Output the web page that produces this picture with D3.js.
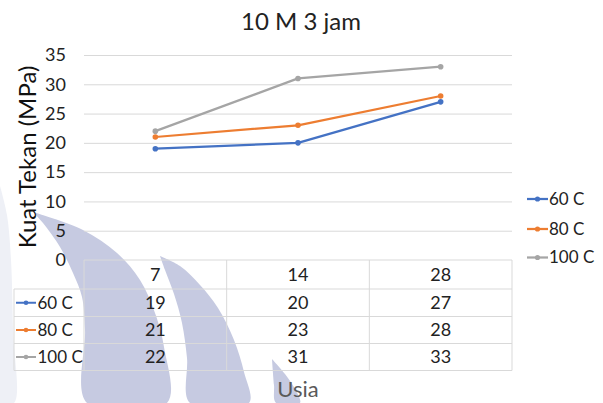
<!DOCTYPE html>
<html>
<head>
<meta charset="utf-8">
<script src="https://cdn.jsdelivr.net/npm/d3@7"></script>
<style>
  html, body { margin: 0; padding: 0; background: #fff; }
  svg { display: block; font-family: Lato, "Open Sans", sans-serif; }
</style>
</head>
<body>
<svg id="chart" width="603" height="403"></svg>
<script>
// Compressive strength (MPa) by age (days) for three curing temperatures
const categories = ["7", "14", "28"];
const seriesNames = ["60 C", "80 C", "100 C"];
const values60 = [19, 20, 27];
const values80 = [21, 23, 28];
const values100 = [22, 31, 33];
const yTicks = [0, 5, 10, 15, 20, 25, 30, 35];
const seriesColors = ["#4472C4", "#ED7D31", "#A5A5A5"];

const series = seriesNames.map((name, i) => ({
  name,
  color: seriesColors[i],
  values: [values60, values80, values100][i]
}));

const svg = d3.select("#chart");
const W = 603, H = 403;
const plot = { left: 84, right: 512, top: 55, bottom: 260 };
const tableLeft = 14;

svg.append("rect").attr("width", W).attr("height", H).attr("fill", "#fff");

// Background sail emblem
const emblem = svg.append("g");
const curve = d3.line().curve(d3.curveCatmullRom.alpha(0.5));
const sails = [
  { fill: "#eef0f6", pts: [[0,186],[7,215],[11,260],[13,330],[14,403],[0,403]] },
  { fill: "#c6cae1", pts: [[33,212],[83,230],[117,253],[140,280],[155,313],[164,347],[167,403],
                          [87,403],[85,330],[82,297],[73,273],[60,247],[43,223],[33,212]] },
  { fill: "#c6cae1", pts: [[160,256],[180,266],[200,285],[218,308],[234,340],[244,372],[249,403],
                          [190,403],[187,358],[182,323],[174,294],[165,270],[160,256]] },
  { fill: "#c6cae1", pts: [[272,359],[285,374],[295,389],[300,403],[276,403],[274,385],[272,359]] }
];
sails.forEach(s => emblem.append("path").attr("d", curve(s.pts) + "Z").attr("fill", s.fill));

const x = d3.scaleBand().domain(categories).range([plot.left, plot.right]);
const y = d3.scaleLinear().domain([0, 35]).range([plot.bottom, plot.top]);

// Horizontal gridlines
svg.append("g")
  .attr("transform", `translate(${plot.left},0)`)
  .call(d3.axisLeft(y).tickValues(yTicks.filter(v => v > 0)).tickSize(-(plot.right - plot.left)).tickFormat(""))
  .call(g => g.select(".domain").remove())
  .call(g => g.selectAll("line").attr("stroke", "#d9d9d9").attr("stroke-width", 1));

// Y tick labels
svg.append("g")
  .attr("transform", `translate(66,0)`)
  .call(d3.axisLeft(y).tickValues(yTicks).tickSize(0).tickPadding(0))
  .call(g => g.select(".domain").remove())
  .call(g => g.selectAll("text").attr("font-size", 18).attr("fill", "#222").attr("font-family", "Lato"));

// Data table grid
const tg = svg.append("g").attr("stroke", "#d9d9d9").attr("stroke-width", 1).attr("fill", "none");
const rowYs = [plot.bottom, 289, 316.5, 343.5, 370.5];
rowYs.forEach((ry, i) => {
  tg.append("line").attr("x1", i === 0 ? plot.left : tableLeft).attr("x2", plot.right)
    .attr("y1", ry).attr("y2", ry);
});
tg.append("line").attr("x1", tableLeft).attr("x2", tableLeft).attr("y1", 289).attr("y2", 370.5);
[plot.left, ...categories.map(c => x(c) + x.bandwidth())].forEach(vx => {
  tg.append("line").attr("x1", vx).attr("x2", vx).attr("y1", plot.bottom).attr("y2", 370.5);
});

// Header row: category labels
svg.append("g").selectAll("text").data(categories).join("text")
  .attr("x", d => x(d) + x.bandwidth() / 2)
  .attr("y", (rowYs[0] + rowYs[1]) / 2)
  .attr("dy", "0.35em")
  .attr("text-anchor", "middle")
  .attr("font-size", 18).attr("fill", "#222")
  .text(d => d);

// Table rows: legend key + values
series.forEach((s, i) => {
  const cy = (rowYs[i + 1] + rowYs[i + 2]) / 2;
  const row = svg.append("g");
  row.append("line").attr("x1", 16).attr("x2", 36).attr("y1", cy).attr("y2", cy)
    .attr("stroke", s.color).attr("stroke-width", 2);
  row.append("circle").attr("cx", 26).attr("cy", cy).attr("r", 2.3).attr("fill", s.color);
  row.append("text").attr("x", 37.5).attr("y", cy).attr("dy", "0.35em")
    .attr("font-size", 17).attr("fill", "#222").text(s.name);
  row.selectAll("text.v").data(s.values).join("text").attr("class", "v")
    .attr("x", (d, j) => x(categories[j]) + x.bandwidth() / 2)
    .attr("y", cy).attr("dy", "0.35em")
    .attr("text-anchor", "middle")
    .attr("font-size", 18).attr("fill", "#222")
    .text(d => d);
});

// Series lines and markers
const line = d3.line().x((d, j) => x(categories[j]) + x.bandwidth() / 2).y(d => y(d));
series.forEach(s => {
  svg.append("path").datum(s.values).attr("d", line)
    .attr("fill", "none").attr("stroke", s.color).attr("stroke-width", 2.25)
    .attr("stroke-linejoin", "round");
  svg.append("g").selectAll("circle").data(s.values).join("circle")
    .attr("cx", (d, j) => x(categories[j]) + x.bandwidth() / 2)
    .attr("cy", d => y(d)).attr("r", 2.8).attr("fill", s.color);
});

// Legend
const legendYs = [199, 229, 257.5];
series.forEach((s, i) => {
  const g = svg.append("g");
  g.append("line").attr("x1", 527).attr("x2", 548).attr("y1", legendYs[i]).attr("y2", legendYs[i])
    .attr("stroke", s.color).attr("stroke-width", 2.25);
  g.append("circle").attr("cx", 537.5).attr("cy", legendYs[i]).attr("r", 2.6).attr("fill", s.color);
  g.append("text").attr("x", 549).attr("y", legendYs[i]).attr("dy", "0.35em")
    .attr("font-size", 17).attr("fill", "#222").text(s.name);
});

// Titles
svg.append("text").attr("x", 301).attr("y", 30).attr("text-anchor", "middle")
  .attr("font-size", 24).attr("fill", "#222").text("10 M 3 jam");

svg.append("text")
  .attr("transform", "translate(36,157) rotate(-90)")
  .attr("text-anchor", "middle")
  .attr("font-size", 24).attr("fill", "#111").text("Kuat Tekan (MPa)");

svg.append("text").attr("x", 298).attr("y", 397).attr("text-anchor", "middle")
  .attr("font-size", 22).attr("fill", "#595959").text("Usia");
</script>
</body>
</html>
